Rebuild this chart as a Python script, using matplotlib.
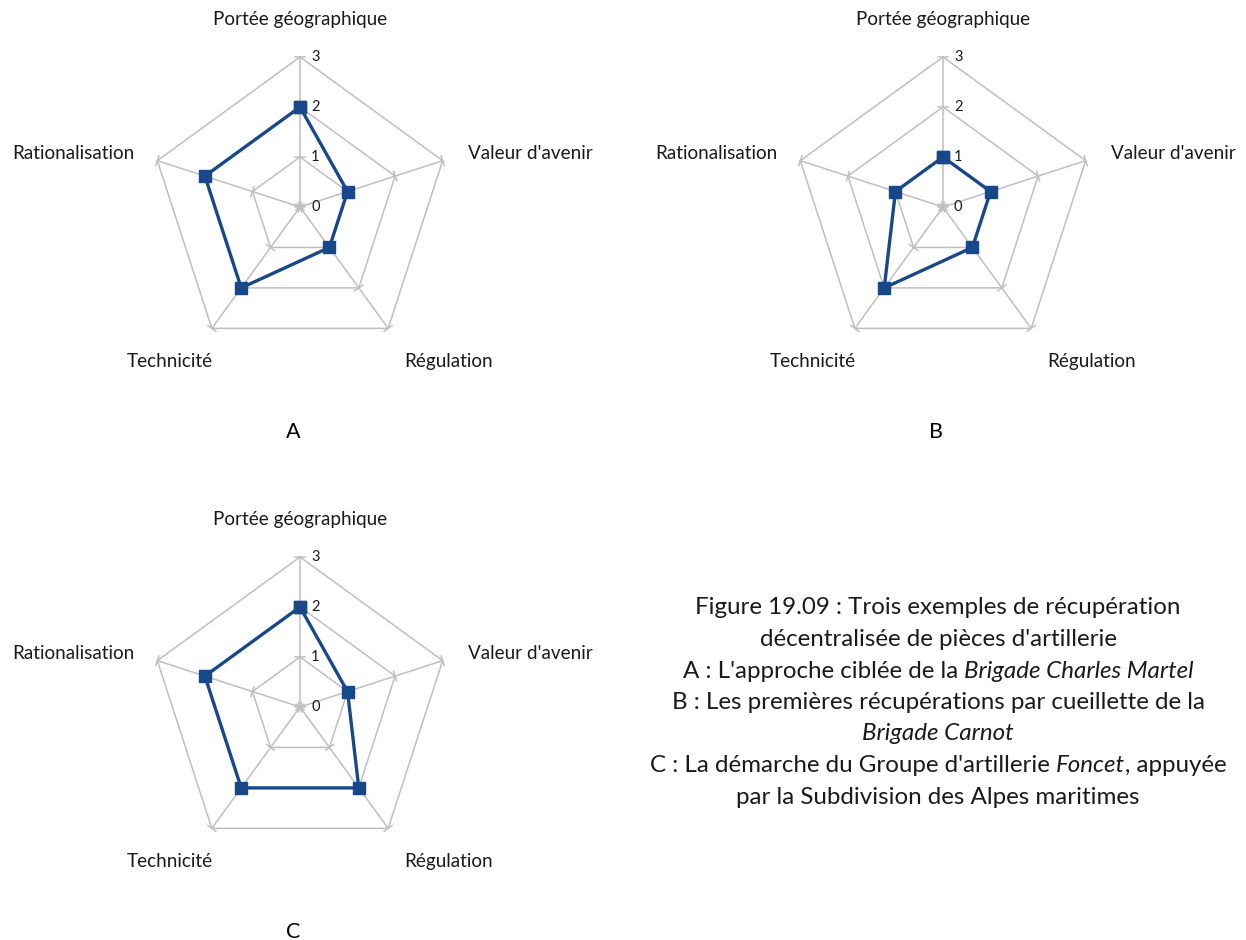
'''plot.py draws three radar charts (A, B, C) of decentralised artillery recovery
approaches, plus the figure caption.
'''

import numpy as np
import matplotlib.pyplot as plt

# categories, clockwise from the top
categories = ['Portée géographique', "Valeur d'avenir", 'Régulation',
              'Technicité', 'Rationalisation']
scale_ticks = [0, 1, 2, 3]

values_a = [2, 1, 1, 2, 2]
values_b = [1, 1, 1, 2, 1]
values_c = [2, 1, 2, 2, 2]

panel_letters = ['A', 'B', 'C']

caption_lines = [
    [('Figure 19.09 : Trois exemples de récupération', 'normal')],
    [('décentralisée de pièces d\'artillerie', 'normal')],
    [("A : L'approche ciblée de la ", 'normal'), ('Brigade Charles Martel', 'italic')],
    [('B : Les premières récupérations par cueillette de la', 'normal')],
    [('Brigade Carnot', 'italic')],
    [("C : La démarche du Groupe d'artillerie ", 'normal'), ('Foncet', 'italic'),
     (', appuyée', 'normal')],
    [('par la Subdivision des Alpes maritimes', 'normal')],
]

FONT = ['Lato', 'DejaVu Sans']
TEXT = '#1a1a1a'
GRID = '#BFBFBF'
BLUE = '#17498A'

W, H = 1246, 940
PX = 50.0  # pixels per scale unit

plt.rcParams['font.family'] = FONT

fig = plt.figure(figsize=(W / 100, H / 100), dpi=100)

angles = np.pi / 2 - np.arange(len(categories)) * 2 * np.pi / len(categories)
ux, uy = np.cos(angles), np.sin(angles)

# label offsets (in scale units) from the outer vertex of each spoke
label_offsets = [(0.0, 0.74, 'center'), (0.5, 0.15, 'left'), (1.2, -0.67, 'center'),
                 (-0.84, -0.67, 'center'), (-0.46, 0.15, 'right')]


def radar(cx, cy, values, letter):
    left, right, top, bottom = cx - 300, cx + 320, cy - 205, cy + 232
    ax = fig.add_axes([left / W, 1 - bottom / H, (right - left) / W, (bottom - top) / H])
    ax.set_xlim((left - cx) / PX, (right - cx) / PX)
    ax.set_ylim(-(bottom - cy) / PX, (cy - top) / PX)
    ax.set_aspect('equal')
    ax.axis('off')

    rmax = scale_ticks[-1]
    # pentagonal grid rings
    for r in scale_ticks[1:]:
        ax.plot(np.append(ux, ux[0]) * r, np.append(uy, uy[0]) * r,
                color=GRID, lw=1.1, zorder=1)
    # spokes with perpendicular tick marks
    for x, y in zip(ux, uy):
        ax.plot([0, x * rmax], [0, y * rmax], color=GRID, lw=1.1, zorder=1)
        for r in scale_ticks:
            ax.plot([x * r - y * 0.1, x * r + y * 0.1], [y * r + x * 0.1, y * r - x * 0.1],
                    color=GRID, lw=1.1, zorder=1)
    for r in scale_ticks:
        ax.text(0.22, r, str(r), fontsize=10.5, color=TEXT, ha='left', va='center')

    for (x, y), name, (dx, dy, ha) in zip(zip(ux, uy), categories, label_offsets):
        ax.text(x * rmax + dx, y * rmax + dy, name, fontsize=13.6, color=TEXT,
                ha=ha, va='center')

    v = np.array(values + values[:1], dtype=float)
    ax.plot(v * np.append(ux, ux[0]), v * np.append(uy, uy[0]), color=BLUE, lw=2.4,
            marker='s', markersize=8.5, zorder=3)

    ax.text(-0.14, -4.5, letter, fontsize=15.5, color='black', ha='center', va='center')


radar(300, 207, values_a, panel_letters[0])
radar(943, 207, values_b, panel_letters[1])
radar(300, 707, values_c, panel_letters[2])

# caption, line by line, with italic runs
cap = fig.add_axes([0, 0, 1, 1])
cap.set_xlim(0, W)
cap.set_ylim(H, 0)
cap.axis('off')
renderer = fig.canvas.get_renderer()
y0, step = 608, 31.5
for i, parts in enumerate(caption_lines):
    texts = []
    for s, style in parts:
        t = cap.text(0, y0 + i * step, s, fontsize=17.4, style=style, color=TEXT,
                     ha='left', va='center')
        texts.append(t)
    widths = [t.get_window_extent(renderer).width for t in texts]
    x = 938 - sum(widths) / 2
    for t, w in zip(texts, widths):
        t.set_x(x)
        x += w

fig.savefig('out.png', dpi=100)
